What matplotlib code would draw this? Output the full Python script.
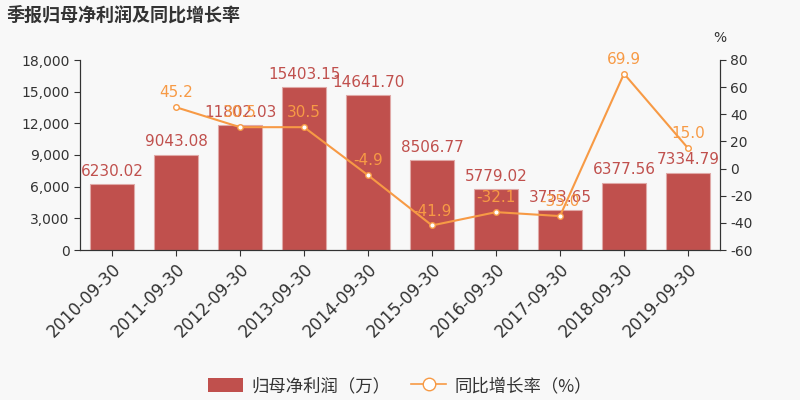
import matplotlib
matplotlib.use("Agg")
import matplotlib.pyplot as plt
from matplotlib.ticker import FuncFormatter
from matplotlib.lines import Line2D

plt.rcParams["font.family"] = ["DejaVu Sans", "Noto Sans CJK SC"]
plt.rcParams["axes.unicode_minus"] = False

# data
dates = [
    "2010-09-30", "2011-09-30", "2012-09-30", "2013-09-30", "2014-09-30",
    "2015-09-30", "2016-09-30", "2017-09-30", "2018-09-30", "2019-09-30",
]
profit = [6230.02, 9043.08, 11802.03, 15403.15, 14641.70,
          8506.77, 5779.02, 3753.65, 6377.56, 7334.79]
growth = [None, 45.2, 30.5, 30.5, -4.9, -41.9, -32.1, -35.0, 69.9, 15.0]

bar_color = "#c0504d"
line_color = "#f79a45"
text_color = "#333333"
bg = "#f8f8f8"

fig = plt.figure(figsize=(8, 4), dpi=100, facecolor=bg)
ax = fig.add_axes([0.1, 0.375, 0.8, 0.475], facecolor=bg)
ax2 = ax.twinx()

x = list(range(len(dates)))
ax.bar(x, profit, width=0.7, color=bar_color, edgecolor="#e0a9a7",
       linewidth=0.8, zorder=2)
ax.set_ylim(0, 18000)
ax.set_yticks(range(0, 18001, 3000))
ax.yaxis.set_major_formatter(FuncFormatter(lambda v, p: f"{int(v):,}"))
ax.set_xlim(-0.5, len(dates) - 0.5)
ax.set_xticks(x)
ax.set_xticklabels(dates, rotation=45, ha="right", rotation_mode="anchor",
                   fontsize=12, color=text_color)

for xi, v in zip(x, profit):
    ax.text(xi, v + 500, f"{v:.2f}", ha="center", va="bottom",
            fontsize=11, color=bar_color, zorder=3)

gx = [xi for xi, g in zip(x, growth) if g is not None]
gy = [g for g in growth if g is not None]
ax2.plot(gx, gy, color=line_color, linewidth=1.5, marker="o", markersize=4,
         markerfacecolor="white", markeredgecolor=line_color, zorder=4)
for xi, g in zip(gx, gy):
    ax2.text(xi, g + 5, f"{g:.1f}", ha="center", va="bottom",
             fontsize=11, color=line_color)
ax2.set_ylim(-60, 80)
ax2.set_yticks(range(-60, 81, 20))
ax2.text(1.0, 1.08, "%", transform=ax2.transAxes, ha="center", va="bottom",
         fontsize=10, color=text_color)

for a in (ax, ax2):
    a.spines["top"].set_visible(False)
    for s in ("left", "right", "bottom"):
        a.spines[s].set_color(text_color)
    a.tick_params(colors=text_color, labelsize=10, length=4)
ax.tick_params(axis="x", labelsize=12)

fig.text(0.008, 0.985, "季报归母净利润及同比增长率", ha="left", va="top",
         fontsize=13, fontweight="bold", color="#333333",
         family=["Noto Sans CJK SC", "DejaVu Sans"])

handles = [
    plt.Rectangle((0, 0), 1, 1, facecolor=bar_color),
    Line2D([], [], color=line_color, linewidth=1.2, marker="o", markersize=9,
           markerfacecolor="white", markeredgecolor=line_color),
]
labels = ["归母净利润（万）", "同比增长率（%）"]
leg = fig.legend(handles, labels, loc="center", bbox_to_anchor=(0.5, 0.035),
                 ncol=2, frameon=False, handlelength=2, handleheight=0.9,
                 columnspacing=1.2, handletextpad=0.5,
                 prop={"family": ["Noto Sans CJK SC", "DejaVu Sans"], "size": 12.5})
for t in leg.get_texts():
    t.set_color(text_color)

fig.savefig("out.png", dpi=100, facecolor=bg)
